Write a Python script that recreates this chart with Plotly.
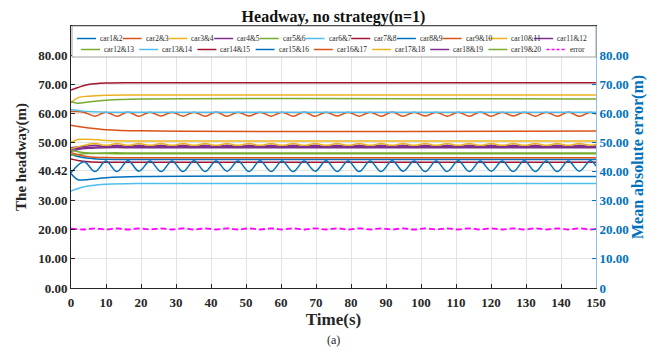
import plotly.graph_objects as go

# ---------------- data ----------------
pair_names = ["car1&2", "car2&3", "car3&4", "car4&5", "car5&6", "car6&7", "car7&8",
              "car8&9", "car9&10", "car10&11", "car11&12", "car12&13", "car13&14",
              "car14&15", "car15&16", "car16&17", "car17&18", "car18&19", "car19&20"]
error_name = "error"

# knot times (s) for the smoothly settling headways
t_knots = [0, 2, 5, 10, 20, 150]
car1_2 = [39.3, 37.2, 37.3, 37.9, 38.3, 38.3]
car3_4 = [63.6, 65.4, 65.9, 66.2, 66.3, 66.3]
car5_6 = [64.0, 63.5, 63.9, 64.5, 64.9, 64.9]
car6_7 = [61.2, 61.0, 60.6, 60.4, 60.4, 60.4]
car7_8 = [68.0, 68.9, 69.9, 70.4, 70.5, 70.5]
car8_9 = [46.0, 45.2, 44.6, 44.2, 44.1, 44.1]
car9_10 = [55.9, 55.5, 55.0, 54.4, 54.0, 53.9]
car10_11 = [50.0, 51.0, 51.1, 50.7, 50.5, 50.5]
car11_12 = [47.6, 48.0, 48.3, 48.5, 48.5, 48.5]
car12_13 = [45.6, 45.9, 46.2, 46.4, 46.4, 46.4]
car13_14 = [33.3, 34.2, 35.0, 35.6, 35.9, 35.9]
car14_15 = [44.3, 43.8, 43.4, 43.2, 43.2, 43.2]
car16_17 = [46.6, 45.8, 45.1, 44.8, 44.7, 44.7]
car18_19 = [47.0, 47.6, 48.0, 48.2, 48.2, 48.2]
car19_20 = [47.3, 46.8, 46.4, 46.2, 46.1, 46.1]

# peak / trough times (s) of the oscillating headways
t_osc = [0.00, 3.70, 6.85, 9.99, 13.14, 16.28, 19.43, 22.57, 25.72, 28.86,
         32.01, 35.15, 38.30, 41.44, 44.59, 47.73, 50.88, 54.02, 57.17, 60.31,
         63.46, 66.60, 69.75, 72.89, 76.04, 79.18, 82.33, 85.47, 88.62, 91.76,
         94.91, 98.05, 101.20, 104.34, 107.49, 110.63, 113.78, 116.92, 120.07, 123.21,
         126.36, 129.50, 132.65, 135.79, 138.94, 142.08, 145.23, 148.37, 150.00]
car15_16 = [39.6, 43.4, 40.0, 43.6, 40.0, 43.7, 40.1, 43.6, 40.0, 43.6,
            40.0, 43.7, 40.0, 43.6, 40.1, 43.6, 40.0, 43.7, 40.0, 43.6,
            40.0, 43.6, 40.1, 43.7, 40.0, 43.6, 40.0, 43.6, 40.0, 43.7,
            40.1, 43.6, 40.0, 43.6, 40.0, 43.7, 40.0, 43.6, 40.1, 43.6,
            40.0, 43.7, 40.0, 43.6, 40.0, 43.6, 40.1, 43.7, 41.9]
car2_3 = [60.6, 60.4, 59.0, 60.4, 59.0, 60.5, 59.0, 60.4, 59.1, 60.4,
          59.0, 60.4, 59.0, 60.5, 59.0, 60.4, 59.1, 60.4, 59.0, 60.4,
          59.0, 60.5, 59.0, 60.4, 59.1, 60.4, 59.0, 60.4, 59.0, 60.5,
          59.0, 60.4, 59.1, 60.4, 59.0, 60.4, 59.0, 60.5, 59.0, 60.4,
          59.1, 60.4, 59.0, 60.4, 59.0, 60.5, 59.0, 60.4, 59.7]
car17_18 = [47.8, 49.0, 49.6, 49.0, 49.6, 49.0, 49.6, 49.0, 49.6, 49.0,
            49.6, 49.0, 49.6, 49.0, 49.6, 49.0, 49.6, 49.0, 49.6, 49.0,
            49.6, 49.0, 49.6, 49.0, 49.6, 49.0, 49.6, 49.0, 49.6, 49.0,
            49.6, 49.0, 49.6, 49.0, 49.6, 49.0, 49.6, 49.0, 49.6, 49.0,
            49.6, 49.0, 49.6, 49.0, 49.6, 49.0, 49.6, 49.0, 49.3]
car4_5 = [48.2, 48.6, 49.0, 48.6, 49.0, 48.6, 49.0, 48.6, 49.0, 48.6,
          49.0, 48.6, 49.0, 48.6, 49.0, 48.6, 49.0, 48.6, 49.0, 48.6,
          49.0, 48.6, 49.0, 48.6, 49.0, 48.6, 49.0, 48.6, 49.0, 48.6,
          49.0, 48.6, 49.0, 48.6, 49.0, 48.6, 49.0, 48.6, 49.0, 48.6,
          49.0, 48.6, 49.0, 48.6, 49.0, 48.6, 49.0, 48.6, 48.8]
error_mae = [20.4, 20.1, 20.5, 20.1, 20.5, 20.1, 20.5, 20.1, 20.5, 20.1,
             20.5, 20.1, 20.5, 20.1, 20.5, 20.1, 20.5, 20.1, 20.5, 20.1,
             20.5, 20.1, 20.5, 20.1, 20.5, 20.1, 20.5, 20.1, 20.5, 20.1,
             20.5, 20.1, 20.5, 20.1, 20.5, 20.1, 20.5, 20.1, 20.5, 20.1,
             20.5, 20.1, 20.5, 20.1, 20.5, 20.1, 20.5, 20.1, 20.3]

x_ticks = [0, 10, 20, 30, 40, 50, 60, 70, 80, 90, 100, 110, 120, 130, 140, 150]
yl_ticks = [0, 10, 20, 30, 40.42, 50, 60, 70, 80]
yl_text = ["0.00", "10.00", "20.00", "30.00", "40.42", "50.00", "60.00", "70.00", "80.00"]
yr_ticks = [0, 10, 20, 30, 40, 50, 60, 70, 80]
yr_text = ["0", "10.00", "20.00", "30.00", "40.00", "50.00", "60.00", "70.00", "80.00"]

# ---------------- styling ----------------
M_COLORS = ["#0072BD", "#D95319", "#EDB120", "#7E2F8E", "#77AC30", "#4DBEEE", "#A2142F"]
ERR_COLOR = "#FF00FF"
FONT = "Liberation Serif"
DARK = "#262626"
BLUE = "#0072BD"

series = [
    (t_knots, car1_2), (t_osc, car2_3), (t_knots, car3_4), (t_osc, car4_5),
    (t_knots, car5_6), (t_knots, car6_7), (t_knots, car7_8), (t_knots, car8_9),
    (t_knots, car9_10), (t_knots, car10_11), (t_knots, car11_12), (t_knots, car12_13),
    (t_knots, car13_14), (t_knots, car14_15), (t_osc, car15_16), (t_knots, car16_17),
    (t_osc, car17_18), (t_knots, car18_19), (t_knots, car19_20),
]

fig = go.Figure()
for i, (name, (tx, ys)) in enumerate(zip(pair_names, series)):
    fig.add_trace(go.Scatter(x=tx, y=ys, mode="lines", name=name,
                             line=dict(color=M_COLORS[i % 7], width=1.5, shape="spline"),
                             showlegend=False))
fig.add_trace(go.Scatter(x=t_osc, y=error_mae, mode="lines", name=error_name, yaxis="y2",
                         line=dict(color=ERR_COLOR, width=1.8, dash="6px,3px", shape="spline"),
                         showlegend=False))

# ---------------- layout ----------------
# the page body adds an 8 px offset, so the figure is 8 px smaller than the window
OFF = 8
W, H = 659 - OFF, 355 - OFF
L, R, T, B = 63, 63, 18, 67
PW, PH = W - L - R, H - T - B


def px_x(px):  # window pixel -> paper x
    return (px - OFF - L) / PW


def px_y(py):  # window pixel -> paper y
    return (H - B - (py - OFF)) / PH


shapes = []
annotations = []
# legend frame
shapes.append(dict(type="rect", xref="paper", yref="paper", x0=px_x(72), x1=1.0,
                   y0=px_y(57), y1=1.0, line=dict(color="#8c8c8c", width=0.8),
                   fillcolor="white", layer="above"))
all_names = pair_names + [error_name]
all_colors = [M_COLORS[i % 7] for i in range(len(pair_names))] + [ERR_COLOR]
for i, (nm, col) in enumerate(zip(all_names, all_colors)):
    if i < 11:
        x0 = 77 + 45.7 * i
        yy = 38.5
    else:
        x0 = 81 + 58.2 * (i - 11)
        yy = 49.5
    shapes.append(dict(type="line", xref="paper", yref="paper",
                       x0=px_x(x0), x1=px_x(x0 + 19), y0=px_y(yy), y1=px_y(yy),
                       line=dict(color=col, width=1.5,
                                 dash="3px,2px" if nm == error_name else "solid"),
                       layer="above"))
    annotations.append(dict(xref="paper", yref="paper", x=px_x(x0 + 21), y=px_y(yy),
                            xanchor="left", yanchor="middle", showarrow=False, text=nm,
                            font=dict(family=FONT, size=7.5, color=DARK)))

annotations.append(dict(xref="paper", yref="paper", x=0.5, y=px_y(340), xanchor="center",
                        yanchor="middle", showarrow=False, text="(a)",
                        font=dict(family=FONT, size=12, color=DARK)))

fig.update_layout(
    width=W, height=H, margin=dict(l=L, r=R, t=T, b=B, autoexpand=False),
    paper_bgcolor="white", plot_bgcolor="white", showlegend=False,
    title=dict(text="Headway, no strategy(n=1)", xref="paper", x=0.5, xanchor="center",
               y=1 - (16.5 - OFF) / H, yanchor="middle",
               font=dict(family=FONT, size=16, color="#111111", weight="bold")),
    xaxis=dict(range=[0, 150], tickvals=x_ticks, ticks="inside", ticklen=4, tickcolor=DARK,
               showline=True, linecolor=DARK, linewidth=1, mirror="ticks", automargin=True,
               showgrid=True, gridcolor="#e3e3e3", zeroline=False, ticklabelstandoff=2,
               tickfont=dict(family=FONT, size=13, color=DARK, weight="bold"),
               title=dict(text="Time(s)", standoff=1,
                          font=dict(family=FONT, size=17, color=DARK, weight="bold"))),
    yaxis=dict(range=[0, 90], tickvals=yl_ticks, ticktext=yl_text, ticks="inside", ticklen=4,
               tickcolor=DARK, showline=True, linecolor=DARK, linewidth=1, automargin=True,
               showgrid=True, gridcolor="#e3e3e3", zeroline=False,
               tickfont=dict(family=FONT, size=13, color=DARK, weight="bold"),
               title=dict(text="The headway(m)", standoff=7,
                          font=dict(family=FONT, size=15, color=DARK, weight="bold"))),
    yaxis2=dict(range=[0, 90], overlaying="y", side="right", tickvals=yr_ticks, ticktext=yr_text,
                ticks="inside", ticklen=4, tickcolor=BLUE, showline=True, linecolor="#8fbde6",
                linewidth=1, showgrid=False, zeroline=False, automargin=True,
                tickfont=dict(family=FONT, size=13, color=BLUE, weight="bold"),
                title=dict(text="Mean absolute error(m)", standoff=3,
                           font=dict(family=FONT, size=16, color=BLUE, weight="bold"))),
    shapes=shapes, annotations=annotations,
)

fig.write_html("out.html")
